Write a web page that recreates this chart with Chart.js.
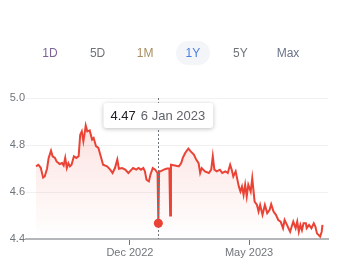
<!DOCTYPE html>
<html>
<head>
<meta charset="utf-8">
<script src="https://cdn.jsdelivr.net/npm/chart.js@4/dist/chart.umd.min.js"></script>
<style>
  body { margin: 0; background: #fff; font-family: Arial, "Liberation Sans", sans-serif; }
  #wrap { position: relative; width: 344px; height: 275px; overflow: hidden; }
  #wrap canvas { position: absolute; left: 0; top: 0; }
  .rng { position: absolute; top: 41px; width: 34px; height: 24px; margin-left: -17px;
         line-height: 24px; text-align: center; font-size: 12px; border-radius: 12px; }
  .rng.on { background: #f3f5f9; }
</style>
</head>
<body>
<div id="wrap">
  <canvas id="myChart" width="344" height="275"></canvas>
</div>
<script>
// range buttons
const ranges = ['1D', '5D', '1M', '1Y', '5Y', 'Max']
const rangeColors = ['#7c6596', '#6f7378', '#a88e60', '#4a7fe0', '#6f7378', '#6a7387']
const activeRange = '1Y'

// days counted from 4 Aug 2022
const dayOffsets = [
  0, 3, 6, 9, 11, 14, 16, 19, 21, 24, 26, 30, 33, 35, 37, 39, 41, 43, 45, 48,
  51, 54, 56, 58, 60, 62, 63, 65, 68, 71, 73, 76, 79, 82, 85, 90, 94, 97, 100, 103,
  105, 109, 113, 117, 121, 123, 127, 130, 133, 136, 138, 140, 143, 145, 148, 151, 154, 155, 156, 158,
  162, 166, 169, 170, 171, 176, 181, 184, 186, 189, 193, 196, 200, 203, 206, 208, 210, 214, 219, 222,
  224, 226, 229, 233, 236, 240, 243, 246, 248, 250, 253, 257, 259, 261, 263, 265, 267, 269, 272, 274,
  277, 280, 282, 284, 287, 290, 293, 296, 298, 301, 304, 307, 310, 313, 315, 318, 321, 322, 324, 326,
  329, 331, 333, 335, 337, 339, 342, 343, 346, 349, 352, 354, 356, 360, 362, 363
]
const rates = [
  4.709, 4.716, 4.703, 4.661, 4.666, 4.700, 4.745, 4.776, 4.752, 4.745, 4.730, 4.719, 4.723, 4.713, 4.745, 4.702, 4.723, 4.709, 4.716, 4.752,
  4.745, 4.752, 4.844, 4.858, 4.816, 4.858, 4.883, 4.858, 4.862, 4.823, 4.830, 4.795, 4.788, 4.752, 4.716, 4.709, 4.695, 4.681, 4.702, 4.738,
  4.699, 4.702, 4.695, 4.681, 4.695, 4.702, 4.695, 4.702, 4.695, 4.702, 4.688, 4.652, 4.645, 4.674, 4.702, 4.695, 4.681, 4.467, 4.688, 4.688,
  4.695, 4.700, 4.700, 4.500, 4.716, 4.713, 4.709, 4.723, 4.745, 4.766, 4.785, 4.773, 4.759, 4.738, 4.723, 4.681, 4.702, 4.688, 4.681, 4.695,
  4.752, 4.695, 4.688, 4.695, 4.681, 4.688, 4.681, 4.716, 4.695, 4.666, 4.688, 4.623, 4.602, 4.623, 4.588, 4.631, 4.581, 4.631, 4.602, 4.659,
  4.559, 4.545, 4.517, 4.545, 4.503, 4.545, 4.510, 4.524, 4.548, 4.517, 4.503, 4.481, 4.474, 4.446, 4.481, 4.460, 4.438, 4.431, 4.453, 4.474,
  4.446, 4.474, 4.431, 4.460, 4.438, 4.467, 4.467, 4.446, 4.460, 4.446, 4.467, 4.453, 4.424, 4.410, 4.431, 4.460
]

const xTickDays = [119, 270]
const xTickLabels = ['Dec 2022', 'May 2023']
const yTicks = [4.4, 4.6, 4.8, 5.0]

const markDay = 155
const markLabel = '6 Jan 2023'

const wrap = document.getElementById('wrap')
ranges.forEach((r, i) => {
  let el = document.createElement('div')
  el.className = 'rng' + (r === activeRange ? ' on' : '')
  el.style.left = (50 + i * 47.6) + 'px'
  el.style.color = rangeColors[i]
  el.textContent = r
  wrap.appendChild(el)
})

const points = dayOffsets.map((d, i) => ({ x: d, y: rates[i] }))
const markIndex = dayOffsets.indexOf(markDay)

const marker = {
  id: 'marker',
  afterDatasetsDraw(chart) {
    const { ctx, chartArea } = chart
    const pt = chart.getDatasetMeta(0).data[markIndex]
    ctx.save()
    // dotted guide
    ctx.strokeStyle = '#70757a'
    ctx.lineWidth = 1
    ctx.setLineDash([2, 2])
    ctx.beginPath()
    ctx.moveTo(Math.round(pt.x) + 0.5, chartArea.top)
    ctx.lineTo(Math.round(pt.x) + 0.5, chartArea.bottom)
    ctx.stroke()
    ctx.setLineDash([])
    // dot
    ctx.fillStyle = '#ea4335'
    ctx.beginPath()
    ctx.arc(pt.x, pt.y, 4.5, 0, Math.PI * 2)
    ctx.fill()
    // tooltip box
    const val = rates[markIndex].toFixed(2)
    ctx.font = '13px Arial, "Liberation Sans", sans-serif'
    const w1 = ctx.measureText(val).width
    const w2 = ctx.measureText(markLabel).width
    const bw = 7 + w1 + 5 + w2 + 8
    const bh = 25
    const bx = pt.x - bw / 2
    const by = chartArea.top + 5
    ctx.shadowColor = 'rgba(0,0,0,0.25)'
    ctx.shadowBlur = 4
    ctx.shadowOffsetY = 1
    ctx.fillStyle = '#fff'
    ctx.beginPath()
    ctx.roundRect(bx, by, bw, bh, 3)
    ctx.fill()
    ctx.shadowColor = 'transparent'
    ctx.textBaseline = 'middle'
    ctx.fillStyle = '#202124'
    ctx.fillText(val, bx + 7, by + bh / 2 + 0.5)
    ctx.fillStyle = '#5f6368'
    ctx.fillText(markLabel, bx + 7 + w1 + 5, by + bh / 2 + 0.5)
    ctx.restore()
  }
}

let createChart = () => {
  const ctx = document.getElementById('myChart')
  new Chart(ctx, {
    type: 'line',
    data: {
      datasets: [{
        data: points,
        borderColor: '#ea4335',
        borderWidth: 2,
        pointRadius: 0,
        tension: 0,
        fill: 'start',
        backgroundColor: context => {
          const area = context.chart.chartArea
          if (!area) return 'rgba(234,67,53,0.1)'
          const g = context.chart.ctx.createLinearGradient(0, area.top, 0, area.bottom)
          g.addColorStop(0, 'rgba(234,67,53,0.22)')
          g.addColorStop(0.45, 'rgba(234,67,53,0.1)')
          g.addColorStop(1, 'rgba(234,67,53,0)')
          return g
        }
      }]
    },
    options: {
      responsive: false,
      animation: false,
      events: [],
      layout: { padding: { top: 98, right: 16, left: 0, bottom: 0 } },
      plugins: { legend: { display: false }, tooltip: { enabled: false } },
      scales: {
        x: {
          type: 'linear',
          min: -12.7,
          max: 370,
          afterFit: scale => { scale.height = 36 },
          afterBuildTicks: scale => { scale.ticks = xTickDays.map(v => ({ value: v })) },
          ticks: {
            color: '#70757a',
            font: { size: 11, family: 'Arial, "Liberation Sans", sans-serif' },
            padding: 1,
            maxRotation: 0,
            autoSkip: false,
            callback: value => xTickLabels[xTickDays.indexOf(value)]
          },
          grid: { drawOnChartArea: false, drawTicks: true, tickLength: 6, color: '#70757a' },
          border: { color: '#b4b6b9', width: 2 }
        },
        y: {
          min: 4.4,
          max: 5.0,
          afterFit: scale => { scale.width = 26 },
          afterBuildTicks: scale => { scale.ticks = yTicks.map(v => ({ value: v })) },
          ticks: {
            color: '#70757a',
            font: { size: 11, family: 'Arial, "Liberation Sans", sans-serif' },
            padding: 1,
            callback: value => value.toFixed(1)
          },
          grid: { color: '#f1f1f1', drawTicks: false },
          border: { display: false }
        }
      }
    },
    plugins: [marker]
  })
}

createChart()
</script>
</body>
</html>
